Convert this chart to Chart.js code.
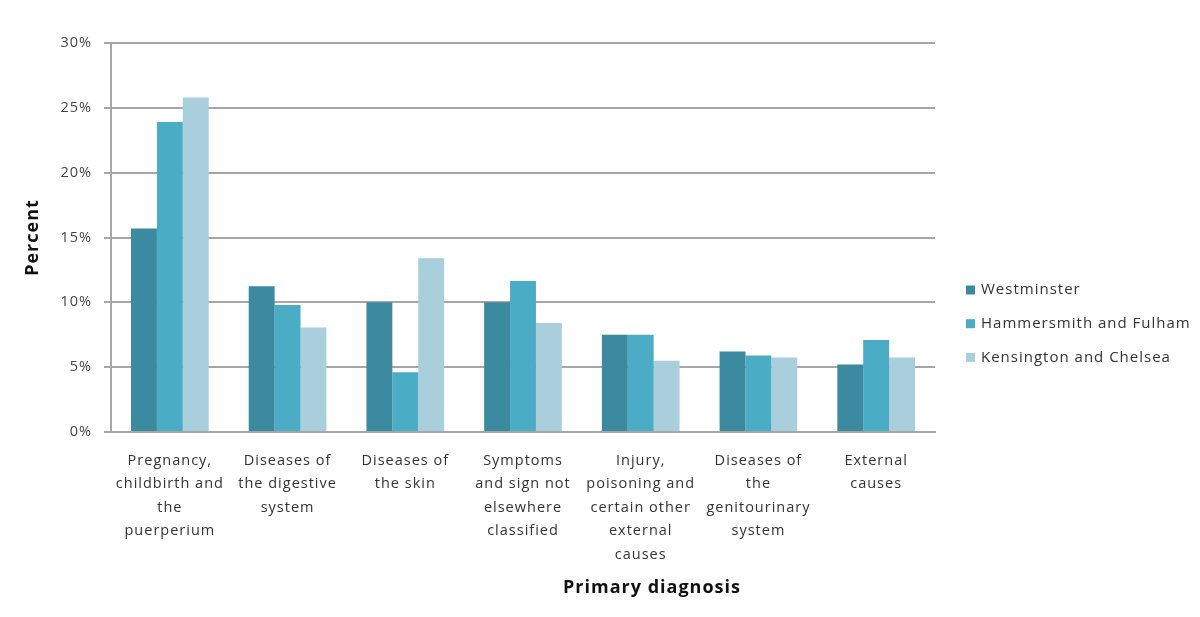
<!DOCTYPE html>
<html>
<head>
<meta charset="utf-8">
<script src="https://cdn.jsdelivr.net/npm/chart.js"></script>
<style>
  body { margin: 0; background: #fff; }
  canvas { display: block; }
</style>
</head>
<body>
<canvas id="diagnosisChart" width="1200" height="617"></canvas>

<script>
    // categories (multi-line tick labels) and series
    const diagnoses = [
        ['Pregnancy,', 'childbirth and', 'the', 'puerperium'],
        ['Diseases of', 'the digestive', 'system'],
        ['Diseases of', 'the skin'],
        ['Symptoms', 'and sign not', 'elsewhere', 'classified'],
        ['Injury,', 'poisoning and', 'certain other', 'external', 'causes'],
        ['Diseases of', 'the', 'genitourinary', 'system'],
        ['External', 'causes']
    ];
    const westminster = [15.7, 11.25, 10.0, 10.0, 7.5, 6.2, 5.2];
    const hammersmithFulham = [23.9, 9.8, 4.6, 11.65, 7.5, 5.9, 7.1];
    const kensingtonChelsea = [25.8, 8.05, 13.4, 8.4, 5.5, 5.75, 5.75];
    const seriesNames = ['Westminster', 'Hammersmith and Fulham', 'Kensington and Chelsea'];
    const yTicks = [0, 5, 10, 15, 20, 25, 30];

    const DARK = '#3b8aa0';
    const MID = '#4bacc6';
    const LIGHT = '#a9cedc';
    const GRID = '#a6a6a6';
    const FONT = "'Open Sans', sans-serif";

    // draws the legend block on the right and the off-centre x axis title
    const extras = {
        id: 'extras',
        beforeUpdate(chart) { chart.ctx.letterSpacing = '1px'; },
        beforeDraw(chart) { chart.ctx.letterSpacing = '1px'; },
        afterDraw(chart) {
            const ctx = chart.ctx;
            const area = chart.chartArea;
            ctx.save();
            ctx.letterSpacing = '1px';
            ctx.textBaseline = 'middle';
            ctx.textAlign = 'left';
            ctx.font = '15px ' + FONT;
            chart.data.datasets.forEach((ds, i) => {
                const y = 290 + i * 33.7;
                ctx.fillStyle = ds.backgroundColor;
                ctx.fillRect(area.right + 31, y - 4.5, 9, 9);
                ctx.fillStyle = '#333';
                ctx.fillText(ds.label, area.right + 46, y);
            });
            ctx.font = 'bold 18px ' + FONT;
            ctx.fillStyle = '#111';
            ctx.textAlign = 'center';
            ctx.fillText('Primary diagnosis', 652, 588);
            ctx.restore();
        }
    };

    new Chart(document.getElementById('diagnosisChart'), {
        type: 'bar',
        data: {
            labels: diagnoses,
            datasets: [
                { label: seriesNames[0], data: westminster, backgroundColor: DARK },
                { label: seriesNames[1], data: hammersmithFulham, backgroundColor: MID },
                { label: seriesNames[2], data: kensingtonChelsea, backgroundColor: LIGHT }
            ]
        },
        options: {
            responsive: false,
            animation: false,
            datasets: {
                bar: { categoryPercentage: 0.66, barPercentage: 1.0 }
            },
            layout: { padding: { top: 43, right: 265, left: 0, bottom: 0 } },
            plugins: {
                legend: { display: false },
                tooltip: { enabled: false }
            },
            scales: {
                x: {
                    grid: { display: false },
                    border: { display: true, color: GRID, width: 2 },
                    ticks: {
                        color: '#333',
                        font: { family: FONT, size: 14.5, lineHeight: 1.62 },
                        padding: 9,
                        maxRotation: 0,
                        autoSkip: false
                    },
                    afterFit(scale) { scale.height = 185; }
                },
                y: {
                    min: 0,
                    max: 30,
                    afterBuildTicks(scale) { scale.ticks = yTicks.map(v => ({ value: v })); },
                    grid: { color: GRID, lineWidth: 2, tickLength: 7 },
                    border: { display: true, color: GRID, width: 2 },
                    ticks: {
                        color: '#444',
                        font: { family: FONT, size: 14.5 },
                        padding: 12,
                        callback: v => v + '%'
                    },
                    title: {
                        display: true,
                        text: 'Percent',
                        color: '#111',
                        font: { family: FONT, size: 18, weight: 'bold', lineHeight: 1.2 },
                        padding: { top: 22, bottom: 0 }
                    },
                    afterFit(scale) { scale.width = 111; }
                }
            }
        },
        plugins: [extras]
    });
</script>
</body>
</html>
